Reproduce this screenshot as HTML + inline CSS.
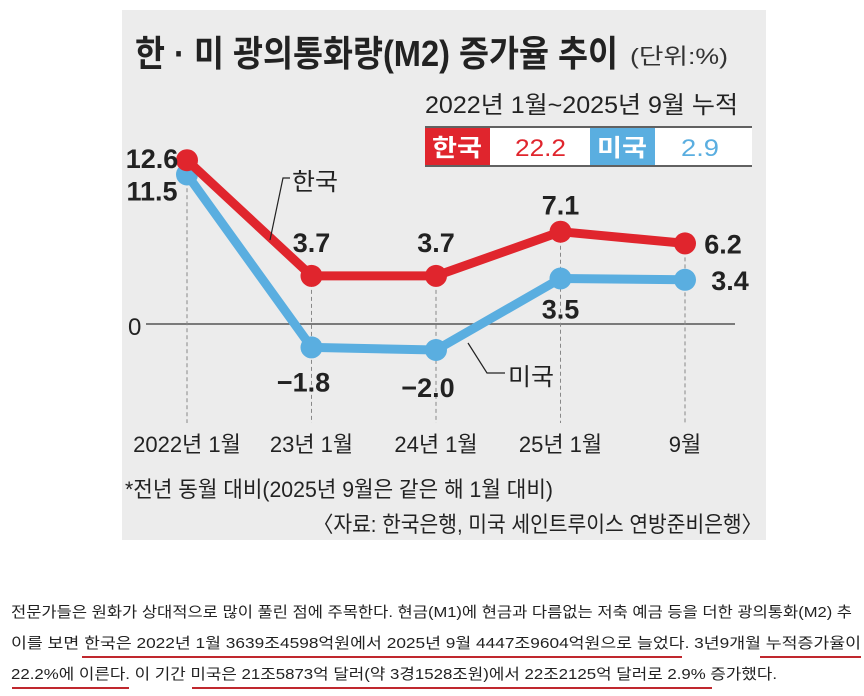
<!DOCTYPE html>
<html><head><meta charset="utf-8"><style>
html,body{margin:0;padding:0;background:#fff;}
svg{display:block;font-family:"Liberation Sans","Noto Sans CJK KR",sans-serif;}
</style></head><body>
<svg id="c" width="864" height="696" viewBox="0 0 864 696">
<rect x="122" y="10" width="644" height="530" fill="#ececec"/>
<text x="135" y="66" font-size="36" font-weight="bold" fill="#222" textLength="483" lengthAdjust="spacingAndGlyphs">한 · 미 광의통화량(M2) 증가율 추이</text>
<text x="630" y="64" font-size="22" fill="#333" textLength="98" lengthAdjust="spacingAndGlyphs">(단위:%)</text>
<text x="425" y="113" font-size="24" fill="#222" textLength="313" lengthAdjust="spacingAndGlyphs">2022년 1월~2025년 9월 누적</text>
<g>
<line x1="425" y1="127" x2="752" y2="127" stroke="#333" stroke-width="1.5"/>
<line x1="425" y1="166" x2="752" y2="166" stroke="#333" stroke-width="1.5"/>
<rect x="425" y="128" width="65" height="37" fill="#e0252d"/>
<rect x="490" y="128" width="100" height="37" fill="#fff"/>
<rect x="590" y="128" width="65" height="37" fill="#5aaee0"/>
<rect x="655" y="128" width="97" height="37" fill="#fff"/>
<text x="432" y="156" font-size="24" font-weight="bold" fill="#fff" textLength="50" lengthAdjust="spacingAndGlyphs">한국</text>
<text x="515" y="156" font-size="24" fill="#e0252d" textLength="51" lengthAdjust="spacingAndGlyphs">22.2</text>
<text x="597" y="156" font-size="24" font-weight="bold" fill="#fff" textLength="50" lengthAdjust="spacingAndGlyphs">미국</text>
<text x="681" y="156" font-size="24" fill="#5aaee0" textLength="38" lengthAdjust="spacingAndGlyphs">2.9</text>
</g>
<line x1="146" y1="324" x2="735" y2="324" stroke="#555" stroke-width="1.5"/>
<text x="128" y="335" font-size="24" fill="#222">0</text>
<g id="dash"></g>
<g id="series"></g>
<g id="labels"></g>
<polyline points="270,240 283,178 290,178" fill="none" stroke="#222" stroke-width="1.2"/>
<text x="292" y="190" font-size="24" fill="#222" textLength="46" lengthAdjust="spacingAndGlyphs">한국</text>
<polyline points="468,343 487,373 505,373" fill="none" stroke="#222" stroke-width="1.2"/>
<text x="508" y="385" font-size="24" fill="#222" textLength="46" lengthAdjust="spacingAndGlyphs">미국</text>
<text x="125" y="497" font-size="22" fill="#222" textLength="428" lengthAdjust="spacingAndGlyphs">*전년 동월 대비(2025년 9월은 같은 해 1월 대비)</text>
<text x="313" y="532" font-size="22" fill="#222" textLength="449" lengthAdjust="spacingAndGlyphs">〈자료: 한국은행, 미국 세인트루이스 연방준비은행〉</text>
<g font-size="15" fill="#222">
<text x="11" y="617" textLength="841" lengthAdjust="spacingAndGlyphs">전문가들은 원화가 상대적으로 많이 풀린 점에 주목한다. 현금(M1)에 현금과 다름없는 저축 예금 등을 더한 광의통화(M2) 추</text>
<text x="11" y="648" textLength="850" lengthAdjust="spacingAndGlyphs">이를 보면 한국은 2022년 1월 3639조4598억원에서 2025년 9월 4447조9604억원으로 늘었다. 3년9개월 누적증가율이</text>
<text x="11" y="679" textLength="766" lengthAdjust="spacingAndGlyphs">22.2%에 이른다. 이 기간 미국은 21조5873억 달러(약 3경1528조원)에서 22조2125억 달러로 2.9% 증가했다.</text>
</g>
<g fill="#c0282e">
<rect x="82" y="656" width="600" height="2"/>
<rect x="760" y="656" width="101" height="2"/>
<rect x="12" y="687" width="117" height="2"/>
<rect x="192" y="687" width="520" height="2"/>
</g>
</svg>
<script>
const categories = ["2022년 1월","23년 1월","24년 1월","25년 1월","9월"];
const koreaValues = [12.6, 3.7, 3.7, 7.1, 6.2];
const usValues = [11.5, -1.8, -2.0, 3.5, 3.4];
const koreaLabels = ["12.6","3.7","3.7","7.1","6.2"];
const usLabels = ["11.5","−1.8","−2.0","3.5","3.4"];
const NS = "http://www.w3.org/2000/svg";
function xPos(i){ return 187 + i * 124.5; }
function yPos(v){ return 324 - v * 13.0; }
function mk(tag, attrs, parent){ const e=document.createElementNS(NS,tag); for(const k in attrs) e.setAttribute(k,attrs[k]); parent.appendChild(e); return e; }
const dash=document.getElementById('dash'), series=document.getElementById('series'), labels=document.getElementById('labels');
categories.forEach((c,i)=>{
  const top=Math.min(yPos(koreaValues[i]),yPos(usValues[i]));
  const l=mk('line',{x1:xPos(i),y1:top,x2:xPos(i),y2:423,stroke:'#888','stroke-width':1,'stroke-dasharray':'4,3'},dash);
  
  
  const t=mk('text',{x:xPos(i),y:452,'font-size':22,fill:'#222','text-anchor':'middle'},labels);
  t.textContent=c;
  
  
});
function drawSeries(vals, color, name){
  const pl=mk('polyline',{points:vals.map((v,i)=>xPos(i)+','+yPos(v)).join(' '),fill:'none',stroke:color,'stroke-width':9,'stroke-linejoin':'round'},series);
  
  
  vals.forEach((v,i)=>{
    const c=mk('circle',{cx:xPos(i),cy:yPos(v),r:11,fill:color},series);
    
    
  });
}
drawSeries(usValues,'#5aaee0','us');
drawSeries(koreaValues,'#e0252d','korea');
// value labels
const kOff=[[-35,8],[0,-24],[0,-24],[0,-17],[38,10]];
const uOff=[[-35,26],[-8,44],[-8,47],[0,40],[45,10]];
function lab(txt,x,y,name){
  const t=mk('text',{x:x,y:y,'font-size':27,'font-weight':'bold',fill:'#222','text-anchor':'middle'},labels);
  t.textContent=txt;
  
  
}
koreaValues.forEach((v,i)=>lab(koreaLabels[i],xPos(i)+kOff[i][0],yPos(v)+kOff[i][1],'korea-value-label'));
usValues.forEach((v,i)=>lab(usLabels[i],xPos(i)+uOff[i][0],yPos(v)+uOff[i][1],'us-value-label'));
</script>
</body></html>
